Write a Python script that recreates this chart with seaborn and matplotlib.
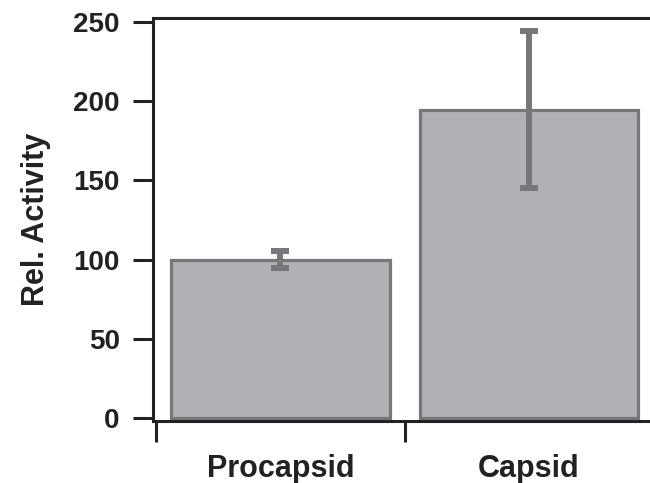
import numpy as np
import pandas as pd
import matplotlib
matplotlib.use("Agg")
import matplotlib.pyplot as plt
import seaborn as sns

# data
samples = ["Procapsid", "Capsid"]
activity = [100, 194.5]
activity_err = [5.3, 49.5]
y_ticks = [0, 50, 100, 150, 200, 250]

BAR_FILL = "#b0b1b5"
BAR_EDGE = "#76777b"
INK = "#222222"

sns.set_theme(style="ticks")
plt.rcParams["font.family"] = ["Liberation Sans", "DejaVu Sans"]
plt.rcParams["font.weight"] = "bold"

df = pd.DataFrame({"sample": samples, "activity": activity})

fig = plt.figure(figsize=(6.5, 4.83), dpi=100)
ax = fig.add_axes([153 / 650, 1 - 421 / 483, (650.7 - 153) / 650, (421 - 18) / 483])

sns.barplot(data=df, x="sample", y="activity", ax=ax, color=BAR_FILL,
            saturation=1, width=0.88, edgecolor=BAR_EDGE, linewidth=2.3,
            errorbar=None)
ax.errorbar(np.arange(len(samples)), activity, yerr=activity_err, fmt="none",
            ecolor=BAR_EDGE, elinewidth=4.3, capsize=6.5, capthick=4.3)

ax.set_ylim(-1.9, 252.5)
ax.set_xlim(-0.513, 1.49)
ax.set_yticks(y_ticks)
ax.set_yticklabels([str(t) for t in y_ticks], fontsize=20, fontweight="bold")

# ticks at category boundaries, labels under the bars
ax.set_xticks([-0.5, 0.5])
ax.set_xticklabels(["", ""])
ax.set_xticks(range(len(samples)), minor=True)
ax.set_xticklabels(samples, minor=True, fontsize=22, fontweight="bold")
ax.tick_params(axis="x", which="major", direction="out", length=15, width=2.2, color=INK)
ax.tick_params(axis="x", which="minor", length=0, pad=24, labelcolor=INK)
ax.tick_params(axis="y", direction="out", length=14.5, width=2.2, pad=9.5,
               color=INK, labelcolor=INK)

ax.set_xlabel("")
ax.set_ylabel("Rel. Activity", fontsize=22, fontweight="bold", color=INK, labelpad=16)

for side in ["left", "top", "bottom"]:
    ax.spines[side].set_linewidth(2.2)
    ax.spines[side].set_color(INK)
ax.spines["right"].set_visible(False)

fig.savefig("out.png", dpi=100)
